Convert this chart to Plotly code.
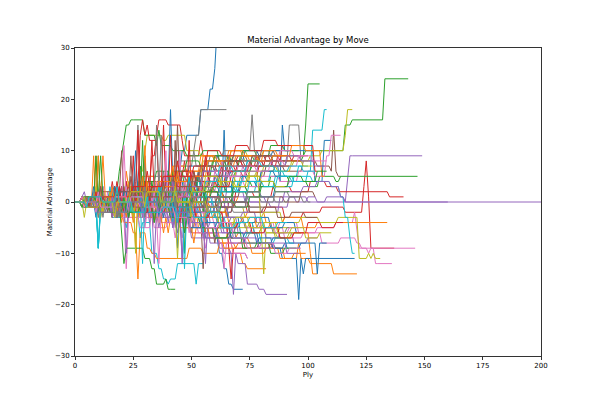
import plotly.graph_objects as go

# Each game: "ply:value" breakpoints (value holds from that ply on); last token = final ply.
games_block_1 = [
    "0:0 6:1 7:0 12:3 13:0 17:-1 22:2 23:-1 27:1 31:4 32:1 36:3 40:6 41:3 44:6 46:10 48:13 53:13 54:18 57:18 58:22 59:22 60:26 61:34",
    "0:0 5:-1 9:2 10:-1 16:-1 20:-4 21:-1 28:-3 33:0 34:-3 40:-6 41:-3 47:-5 52:-2 53:-5 60:-7 66:-4 67:-7 75:-8 84:-9 90:-11 96:-8 97:-11 101:-12 106:-12 111:-14 121:-14",
    "0:0 4:1 5:0 11:3 12:0 18:-2 24:1 25:-2 30:0 37:2 38:-1 45:3 52:3 53:6 54:3 60:5 68:6 76:8 85:9 92:9 99:10 115:10 116:15 119:16 132:16 133:24 143:24",
    "0:0 7:-1 8:1 14:0 20:3 21:0 26:-2 33:1 34:-2 41:-1 48:-4 49:-1 57:0 65:-3 66:0 74:-2 82:-1 90:-3 98:-2 106:-1 116:-2 123:-2 124:3 125:8 126:1 127:-9 137:-9",
    "0:0 3:1 4:0 10:-1 15:2 16:-1 22:-3 23:0 29:-1 36:2 37:-1 44:0 51:3 52:0 60:-2 68:1 75:0 84:-1 92:1 100:0 108:1 116:0 117:5 118:9 149:9",
    "0:0 5:-1 6:1 13:0 19:-3 20:0 26:2 31:-1 32:2 39:3 45:0 46:3 53:5 58:4 66:6 74:5 82:7 90:6 98:8 104:7 110:6 111:14 112:6 113:5 114:5",
    "0:0 4:-1 9:1 10:-2 17:0 23:-3 24:0 29:2 35:-1 36:2 42:0 49:-3 50:0 57:-2 64:-4 72:-3 80:-5 88:-4 96:-6 104:-5 112:-4 120:-2 121:-6 122:-9 146:-9",
    "0:0 5:1 6:0 11:-1 16:2 17:-1 22:1 27:4 28:1 33:3 38:6 39:3 44:8 49:10 52:13 54:18 65:18",
    "0:0 6:-1 7:1 13:0 18:3 19:0 24:-2 30:1 31:-2 38:0 44:3 45:0 51:2 58:4 64:3 71:5 78:6 86:7 94:8 101:9 106:10 115:10 116:13 117:18 119:18",
    "0:0 3:1 4:-1 9:2 10:-1 16:0 21:3 22:0 28:-2 34:1 35:-2 41:1 48:0 55:3 56:0 63:2 70:4 78:3 86:5 94:4 100:6 102:14 106:14 107:18 108:18",
]
games_block_2 = [
    "0:0 5:1 6:-1 12:0 17:-3 18:0 24:2 30:-1 31:2 37:0 43:-3 44:0 50:-2 57:-4 64:-3 71:-6 78:-8 86:-9 89:-11 95:-11 96:-19 97:-11 98:-14 99:-11 120:-11",
    "0:0 4:1 5:0 10:-3 11:0 17:2 23:-1 24:2 30:1 36:-2 37:1 44:0 50:3 51:0 58:-1 66:-3 74:-2 82:-4 90:-3 98:-5 104:-4 108:-4 134:-4",
    "0:0 6:1 7:-1 14:0 20:3 21:0 27:-1 33:2 34:-1 40:1 47:4 48:1 55:3 62:5 69:6 76:7 84:8 92:8 98:9 99:15 100:23 105:23",
    "0:0 5:-1 6:1 12:-2 13:1 19:0 25:-3 26:0 32:2 38:-1 39:2 46:0 53:3 54:0 61:-1 69:2 77:1 85:3 93:2 101:4 108:3 113:2 134:2 135:1 141:1",
    "0:0 4:-1 5:1 11:0 17:3 18:0 23:-2 29:1 30:-2 36:0 42:2 43:-1 50:1 57:-1 65:2 73:0 80:-2 88:1 95:0 100:1 104:0 200:0",
    "0:0 7:1 8:-1 14:0 20:-3 21:0 27:2 32:-1 33:2 40:3 46:0 47:3 54:1 61:-2 68:0 75:-1 83:1 90:0 97:2 103:1",
    "0:0 6:1 7:-1 13:0 19:3 20:0 26:-2 32:0 33:-3 39:-1 46:-4 47:-1 53:-3 60:-5 67:-4 74:-6 82:-5 90:-7 98:-6 106:-8 114:-7 121:-8 123:-9 126:-10 127:-9 129:-12 136:-12",
    "0:0 5:-1 6:1 12:0 18:3 19:0 24:-1 30:2 31:-1 37:1 43:4 44:1 51:3 58:2 65:5 72:4 80:6 86:7 91:8 92:15 96:15 97:8 98:8",
    "0:0 4:1 5:-1 11:0 17:-3 18:0 24:1 30:-2 31:1 37:0 43:-3 44:0 51:-1 58:-2 65:-1 73:-3 81:-2 89:-4 97:-3 105:-4 113:-3 121:-3 122:-11 126:-10 127:-11 128:-10 129:-11 131:-11",
    "0:0 3:-1 8:1 9:-2 15:0 21:3 22:0 28:-2 34:1 35:-2 41:0 48:2 49:-1 56:1 63:3 70:2 78:4 86:3 94:5 102:4 110:3 114:1 116:-3 118:-7 119:-10 120:-10",
]
games_block_3 = [
    "0:0 5:1 6:0 11:-2 12:1 18:0 24:3 25:0 31:2 37:-1 38:2 45:4 52:3 53:6 54:3 60:5 67:6 74:8 81:7 88:4 89:15 90:10 102:10 103:4 106:4 107:12 110:12",
    "0:0 4:-1 9:1 10:-2 16:0 22:-3 23:0 29:-2 35:-4 36:-1 42:-3 49:-5 50:-2 56:-6 62:-8 68:-10 72:-12 74:-13 82:-13",
    "0:0 6:-1 7:1 13:0 19:-3 20:0 26:2 31:-1 32:2 39:1 45:4 46:1 53:3 60:2 68:4 76:3 84:5 92:4 100:3 105:5 112:4 114:5 147:5",
    "0:0 5:1 6:-1 11:2 12:-1 17:1 22:4 23:1 28:6 29:3 33:9 35:13 36:16 39:16 40:15 45:15 46:12 47:9 53:9 54:12 55:9 62:8 70:9 78:8 85:7",
    "0:0 5:1 6:-1 12:0 18:-3 19:0 25:2 31:-1 32:2 38:0 45:-3 46:0 52:-2 59:1 66:-1 74:1 82:0 90:2 98:3 104:4 110:3 114:1 116:0 160:0",
    "0:0 4:1 5:0 10:-1 16:2 17:-1 23:0 29:3 30:0 36:1 42:-2 43:1 50:0 57:2 64:1 71:3",
    "0:0 5:-1 6:1 12:0 18:-2 24:1 25:-2 31:0 37:3 38:0 45:2 52:1 59:3 66:4 73:3 80:5 88:4 96:6 103:5 107:5 108:9 110:13 114:13",
    "0:0 6:1 7:0 13:-2 14:1 20:0 26:4 27:15 28:4 33:3 39:5 46:4 53:6 58:5 63:3 68:4 74:4",
    "0:0 5:-1 6:1 12:2 13:-1 18:1 23:4 24:1 28:6 30:10 31:13 38:12 40:13 47:13 48:10 54:9 60:8 67:10 74:9 81:10",
    "0:0 4:1 5:-1 10:-9 11:-1 16:-3 22:-5 23:-2 28:-7 29:-4 33:-10 36:-13 38:-15 40:-16 41:-15 43:-15 44:-12 51:-12 52:-16 53:-12 55:-12",
]
games_block_4 = [
    "0:0 5:-1 6:1 11:0 17:-3 18:0 24:2 29:-1 30:2 36:-2 42:-5 43:-2 49:-4 56:-7 62:-10 64:-13 66:-16 68:-17 72:-17",
    "0:0 4:1 5:-1 9:9 10:-1 15:-2 21:-4 25:-6 27:-15 28:-6 31:-9 33:-10 35:-11 40:-11 48:-11 49:-9 55:-10 62:-8 69:-9",
    "0:0 5:1 6:0 10:9 11:0 16:2 19:6 20:9 21:12 22:15 24:16 29:16 30:13 35:11 36:14 37:11 42:10 48:9 55:10 62:8 68:9",
    "0:0 6:1 7:-1 12:0 18:3 19:0 25:-2 30:1 31:-2 37:2 44:0 45:3 52:5 58:4 65:6 72:5 79:7 85:8 89:11 102:11 103:6 104:6",
    "0:0 4:-1 5:1 11:0 17:-2 23:1 24:-2 30:-4 31:-1 37:-3 44:-6 45:-3 51:-5 58:-8 64:-10 70:-12 74:-16 79:-17 82:-18 91:-18",
    "0:0 5:1 6:-1 11:0 17:-3 18:0 23:1 29:-2 30:1 36:-1 43:-4 44:-1 50:-3 55:-13 56:-4 64:-5 70:-4 77:-6",
    "0:0 4:1 5:0 9:-1 14:2 15:-1 20:-3 22:-13 23:-3 28:-5 33:-2 34:-5 40:-4 46:-7 47:-4 53:-6 60:-5 66:-8 72:-7",
    "0:0 5:-1 6:1 11:-1 17:2 18:-1 24:0 30:3 31:0 37:-2 43:1 44:-2 50:0 56:-3 62:-1 68:-2 75:-1 80:-1",
    "0:0 4:-3 5:0 10:1 16:-2 17:1 23:0 29:4 30:1 36:3 42:6 43:3 49:5 55:8 61:7 67:9 73:8 79:9",
    "0:0 5:1 6:0 10:-9 11:0 16:-2 21:2 22:-1 28:1 34:-3 35:0 41:-2 47:1 48:-2 54:0 60:-3 66:-2",
]
games_block_5 = [
    "0:0 3:1 4:0 9:-2 10:1 15:0 20:3 21:0 27:-1 33:2 34:-1 40:4 41:18 42:4 46:4 47:1 53:3 60:2 64:14 65:2 71:4 78:3",
    "0:0 4:-1 8:9 9:-1 14:0 20:-3 21:0 26:2 32:-1 33:2 39:0 45:-2 46:1 52:-1 58:2 64:0 70:1",
    "0:0 5:-1 6:1 12:0 17:-3 18:0 20:-6 21:-12 22:-9 29:-9 30:-11 33:-13 35:-16 38:-16 39:-15 40:-17 43:-17",
    "0:0 5:1 6:-1 11:1 16:4 17:1 23:3 28:13 29:16 30:13 31:15 32:12 35:12 36:3 41:5 47:8 48:5 54:7 60:6 66:8 72:7 78:9 84:8",
    "0:0 4:1 5:0 10:-2 11:1 17:0 23:-3 24:0 30:-2 36:-5 37:-2 43:-4 50:-7 56:-6 62:-9 67:-10 68:-18 69:-10 74:-11",
    "0:0 6:-1 7:1 13:0 19:2 25:-1 26:2 32:0 38:3 39:0 45:2 52:5 53:2 59:4 65:3",
    "0:0 3:1 4:0 8:2 9:-1 15:1 21:-2 22:1 28:3 34:0 35:3 41:5 48:2 49:5 55:4 62:6 68:5 74:7",
    "0:0 5:1 6:0 12:-3 13:0 19:2 25:0 26:3 32:5 38:2 39:5 45:7 51:10 52:7 58:9 64:10 72:10 76:17 77:10 88:10",
    "0:0 4:1 5:-1 10:0 16:-3 17:0 23:2 29:-1 30:2 36:0 42:-3 43:0 49:-2 56:-4 62:-3 69:-5 75:-4 82:-6 88:-5 92:-5",
    "0:0 4:-1 5:1 10:0 15:3 16:0 21:-2 27:1 28:-2 34:0 40:3 41:0 47:2 53:5 54:2 60:4 66:3 72:5 78:4 84:6 90:5 96:7 100:7",
]
games_block_6 = [
    "0:0 4:1 5:-1 10:0 16:2 17:-1 22:1 28:-2 34:1 35:-2 41:0 47:-3 48:0 54:-2 60:-1 66:-3 72:-4 78:-3 84:-5 90:-4 95:-6 97:-6",
    "0:0 5:1 6:0 11:3 12:0 17:-2 23:1 24:-2 30:0 36:-3 37:0 42:-4 50:-6 56:-5 62:-7 70:-6 80:-5 88:-7 94:-6 100:-6 101:-10 102:-14 104:-14",
    "0:0 3:1 4:0 9:9 10:0 15:-1 21:2 22:-1 27:1 33:4 34:1 40:3 46:6 47:3 53:5 59:8 65:7 71:9 77:8",
    "0:0 5:-1 6:1 12:0 18:-3 19:0 25:2 31:0 32:-3 38:-1 44:-4 45:-1 51:-3 57:-5 63:-4 66:-9 67:-15 68:-9 75:-9 82:-9 84:-8",
    "0:0 4:1 5:0 9:-1 15:2 16:-1 21:0 27:-3 28:0 34:2 40:-1 41:2 47:0 53:-2 60:-1 66:-3 72:-2 78:-4",
    "0:0 5:-1 6:1 11:0 17:3 18:0 24:5 25:2 31:4 37:1 38:4 44:6 50:5 56:8 62:7 68:9 74:8 80:10 86:9 88:9",
    "0:0 4:-1 5:0 11:2 12:-1 17:-3 18:0 24:-2 30:-5 31:-2 37:-4 43:-7 44:-4 50:-6 56:-9 57:-6 62:-8 64:-13 65:-8 68:-10 74:-11",
    "0:0 6:1 7:-1 13:0 19:-3 20:0 26:2 32:-1 33:2 39:0 45:3 46:0 52:2 58:4 64:3",
    "0:0 5:1 6:0 12:-1 18:2 19:-1 25:0 31:3 32:0 38:2 44:5 45:2 51:4 57:3 63:5 69:4 75:6 79:2 80:-6 81:-14 82:-6 87:-7 93:-6 97:-6",
    "0:0 3:-1 4:1 10:0 16:-2 22:1 23:-2 28:0 34:-3 35:0 41:-2 47:1 48:-2 53:-1 59:-3 65:-5 71:-4 77:-6",
]
games_block_7 = [
    "0:0 5:-1 6:1 12:0 17:3 18:0 24:-2 30:1 31:-2 37:0 43:3 44:0 50:2 56:-1 62:1 68:0 74:2 80:1 86:3",
    "0:0 4:1 5:-1 11:0 16:3 17:0 22:6 23:3 29:5 35:2 36:5 42:7 48:6 54:9 60:8 66:10 72:9 76:9",
    "0:0 6:-1 7:1 12:-1 18:2 19:-1 25:1 31:-2 32:1 38:-1 44:2 45:-1 51:1 57:-2 63:0 69:-1 75:1 80:1",
    "0:0 4:-1 5:0 10:2 11:-1 16:1 22:4 23:1 29:3 35:0 36:3 42:5 48:4 54:7 60:6 66:8 72:7",
    "0:0 3:1 4:2 5:0 11:-1 17:2 18:-1 24:0 30:-3 31:0 37:-2 43:-5 44:-2 50:-4 56:-12 57:-4 63:-6 69:-5",
    "0:0 5:1 6:-1 12:1 18:-2 19:1 25:0 31:3 32:0 38:-2 44:1 45:-2 51:0 57:-3 63:-2",
    "0:0 4:1 5:0 10:-2 11:1 17:-1 23:2 24:-1 29:1 35:4 36:1 42:3 48:0 49:3 55:2 61:5 67:4 73:6",
    "0:0 5:-1 6:0 11:-3 12:0 18:-2 24:1 25:-2 31:-1 37:-4 38:-1 44:-3 50:-6 51:-3 57:-5 63:-4 69:-7 75:-6",
    "0:0 5:1 6:0 11:-2 12:1 18:0 24:3 25:0 31:2 37:-1 38:2 44:0 50:3 51:0 57:2 63:4 69:3 75:5",
    "0:0 4:1 5:-1 11:1 17:-2 18:1 24:0 30:3 31:0 37:2 43:-1 44:2 50:0 56:3 62:2 68:4 73:4",
]
games_block_8 = [
    "0:0 3:-1 4:0 8:3 9:0 14:-2 19:1 20:-2 25:0 30:9 31:0 36:-3 37:0 42:2 48:1 52:1",
    "0:0 4:1 5:0 10:9 11:0 15:-2 20:1 26:-9 27:1 32:3 38:2 44:4 48:4",
    "0:0 5:-1 6:1 11:0 16:-3 17:0 22:3 23:0 28:-2 33:1 39:-1 44:2 50:1 56:3 60:3",
    "0:0 4:1 5:0 9:-2 10:1 15:0 20:3 21:0 25:9 26:0 31:-2 36:1 41:13 42:1 47:3 52:2",
    "0:0 5:1 6:-1 11:0 16:3 17:0 22:-2 28:1 29:-2 34:-1 40:-4 41:-1 46:-12 47:-1 52:-3 58:-2",
    "0:0 4:-1 5:0 9:1 14:-2 15:1 20:10 21:1 26:3 32:0 33:3 38:2 44:15 45:2 50:4",
    "0:0 5:1 6:0 10:-2 11:1 16:-1 21:-3 27:-3 33:0 34:-3 36:-12 37:-2 45:10 46:-2 51:-4",
    "0:0 4:1 5:0 10:-3 11:0 16:2 17:-1 22:1 28:4 29:1 34:3 40:0 41:3 46:5 50:5",
    "0:0 4:-1 5:0 9:3 10:0 16:-2 22:1 23:-2 28:0 34:-3 35:0 40:-2 45:1",
    "0:0 5:-1 6:0 10:-9 11:0 16:-3 17:0 22:3 23:0 28:-2 34:1 35:-2 40:0 44:0",
]
games_block_9 = [
    "0:0 4:1 5:-1 10:2 11:-1 17:0 23:-3 24:0 29:5 30:2 36:4 42:1 43:4 49:7 55:6 61:9 67:8 73:10 79:9 85:10 92:10",
    "0:0 5:-1 6:1 12:-2 13:1 19:-1 25:-4 26:-1 32:-3 38:-6 39:-3 45:-5 51:-8 52:-5 58:-7 64:-9 70:-8 76:-10 82:-9 88:-11 94:-10 99:-10",
    "0:0 3:1 4:-1 9:1 15:-2 16:1 22:3 23:0 28:7 29:4 35:6 41:3 42:6 48:8 54:7 60:9 66:8 72:10 78:9 84:11 90:10 96:10",
    "0:0 4:-1 5:1 11:0 16:-3 17:0 22:2 27:-1 28:2 33:12 34:2 39:5 45:3 46:6 52:4 58:7 64:6 70:8 76:7 82:9 88:8 94:9 100:9",
    "0:0 5:1 6:-1 12:0 18:3 19:0 24:-1 30:2 31:-1 37:1 43:-2 44:1 50:-1 56:2 62:0 68:3 74:2 80:4 86:3 92:4 98:4",
    "0:0 3:-1 4:1 10:0 15:-2 21:1 22:-2 28:0 34:-4 35:-1 41:-3 47:-6 48:-3 54:-5 60:-8 61:-5 67:-7 73:-9 79:-8 85:-9 90:-9",
    "0:0 6:1 7:0 12:3 13:0 18:-1 24:2 25:-1 31:1 37:4 38:1 44:3 50:6 51:3 57:5 63:8 64:5 70:7 76:9 82:8 88:10 94:9 99:9",
    "0:0 4:-1 5:0 11:-2 12:1 17:0 23:-3 24:0 29:2 35:-1 36:2 42:0 48:-3 49:0 55:-2 61:-4 67:-3 73:-5 79:-4 85:-6 91:-5 96:-5",
    "0:0 5:1 6:0 11:-3 12:0 18:2 24:-1 25:2 31:0 37:3 38:0 44:2 50:5 51:2 57:4 63:3 69:6 75:5 81:7 87:6 93:8 98:7 102:7",
    "0:0 4:-1 5:1 10:-1 16:2 17:-1 23:1 29:-2 30:1 36:-1 42:-4 43:-1 49:-3 55:-6 56:-3 62:-5 68:-7 74:-6 80:-8 86:-7 92:-8 97:-8",
]
games_block_10 = [
    "0:0 5:-1 6:0 11:3 12:0 17:-2 23:1 24:-2 30:0 36:3 37:0 43:2 49:5 50:2 56:4 62:3 68:5 74:4 80:6 86:5 91:5",
    "0:0 3:1 4:0 9:-1 15:2 16:-1 22:1 28:-3 29:0 35:-2 41:1 42:-2 48:0 54:-3 60:-2 66:-4 72:-3 78:-5 84:-4 90:-3 94:-3",
    "0:0 5:1 6:-1 11:0 17:3 18:0 24:-2 30:1 31:-2 37:0 43:-3 44:0 50:-2 56:1 62:0 68:2 74:1 80:3 86:2 92:2",
    "0:0 4:1 5:-1 11:1 17:-2 18:1 24:0 30:4 31:1 37:3 43:6 44:3 50:5 56:9 57:5 63:7 69:6 75:8 81:7 87:9 93:8 97:8",
    "0:0 6:-1 7:1 13:0 19:-2 20:1 26:-1 32:-4 33:-1 39:-3 45:0 46:-3 52:-1 58:-4 64:-3 70:-6 76:-5 82:-7 88:-6 94:-8 100:-7 104:-7",
    "0:0 4:1 5:0 10:2 16:-1 17:2 23:0 29:3 30:0 36:2 42:5 43:2 49:4 55:7 61:6 67:8 73:7 79:9 85:8 90:8",
    "0:0 5:-1 6:1 11:-1 17:-3 18:0 24:-2 30:1 31:-2 37:0 43:-3 44:0 50:-2 56:-5 62:-4 68:-6 74:-5 80:-4 86:-6 92:-5 98:-5",
    "0:0 3:1 4:-1 10:0 16:3 17:0 23:2 29:5 30:2 35:15 36:3 42:5 48:4 54:7 60:6 66:9 72:8 78:10 84:9 88:9",
    "0:0 4:-1 5:1 11:0 17:-2 23:1 24:-2 30:-1 36:-4 37:-1 43:-3 49:-1 50:-4 56:-2 62:-5 68:-4 74:-6 80:-5 86:-7 92:-6 96:-6",
    "0:0 5:1 6:0 11:2 12:-1 18:1 24:-2 25:1 31:0 37:3 38:0 44:2 50:-1 51:2 57:0 63:3 69:2 75:4 81:3 87:5 93:4 98:4",
]
games_block_11 = [
    "0:0 4:1 5:0 9:-3 10:0 15:2 20:-1 21:2 26:10 27:2 32:0 38:-3 39:0 44:-9 45:0 50:2 56:1 62:3 68:2",
    "0:0 5:-1 6:1 12:9 13:1 18:-1 24:2 25:-1 30:11 31:-1 36:1 42:-2 43:1 48:3 54:2 60:4 66:3",
    "0:0 4:-1 5:1 11:9 12:1 17:0 23:-3 24:0 29:12 30:0 35:2 41:-1 42:2 47:-10 48:2 53:1 59:3 65:2",
    "0:0 3:1 4:0 9:2 10:-1 15:1 21:-2 22:1 27:14 28:1 33:3 38:15 39:3 44:1 49:12 50:1 55:4 61:3 67:5",
    "0:0 4:-1 5:0 10:1 16:-2 17:1 22:-10 23:1 28:-1 34:-12 35:-1 40:-3 46:-11 47:-3 52:-5 58:-4 64:-6",
    "0:0 5:1 6:-1 12:0 18:-3 19:0 24:9 25:0 31:-2 37:1 38:-2 43:12 44:-2 49:0 55:-1 61:1 67:0",
    "0:0 4:1 5:-1 10:0 16:3 17:0 21:11 22:0 27:-2 33:1 34:-2 39:10 40:-2 45:0 51:-2 57:1 63:0",
    "0:0 6:1 7:-1 12:0 18:-3 19:0 25:2 31:-1 32:2 37:13 38:2 43:4 49:3 55:5 61:4",
    "0:0 3:-1 4:1 9:-1 15:2 16:-1 22:1 26:-10 27:1 32:-2 38:0 39:-2 44:-11 45:-2 50:0 56:-1 62:1",
    "0:0 5:1 6:-1 10:-9 11:-1 17:1 23:-2 24:1 29:-12 30:1 35:-1 41:2 42:-1 47:-13 48:-1 53:1 59:0",
]
games_block_12 = [
    "0:0 4:-1 5:1 11:0 17:3 18:0 23:-2 29:1 30:-2 36:0 42:-3 43:0 49:-2 55:-5 61:-4 67:-7 73:-6 79:-8 85:-7 91:-9 97:-8 103:-8 104:-14 105:-8 108:-8",
    "0:0 5:1 6:-1 12:1 18:-2 19:1 25:0 31:4 32:1 38:3 44:6 45:3 51:5 57:8 63:7 69:9 75:8 81:10 87:9 93:11 99:10 105:10 106:5 107:5",
    "0:0 4:1 5:0 10:-2 11:1 17:0 23:-3 24:0 30:2 36:-1 37:2 43:0 49:3 50:0 56:2 62:1 68:3 74:2 80:4 86:3 92:5 98:4 104:6 108:6",
    "0:0 6:-1 7:1 13:0 19:3 20:0 26:-2 32:1 33:-2 39:-1 45:-4 46:-1 52:-3 58:-2 64:-5 70:-4 76:-6 82:-5 88:-7 94:-6 100:-4 106:-5 112:-4 115:-4",
    "0:0 4:1 5:-1 10:0 16:-3 17:0 23:2 29:-1 30:2 36:1 42:4 43:1 49:3 55:6 61:5 67:7 73:6 79:8 85:7 91:9 97:8 103:7 107:7",
    "0:0 5:-1 6:0 11:3 12:0 18:-1 24:2 25:-1 31:1 37:-2 38:1 44:-1 50:2 51:-1 57:1 63:-1 69:0 75:-2 81:-1 87:-3 93:-2 99:-3 104:-3",
    "0:0 3:1 4:0 9:-2 10:1 16:0 22:3 23:0 28:-1 34:2 35:-1 41:1 47:4 48:1 54:3 60:6 66:5 72:7 78:6 84:8 90:7 96:9 102:8 108:8",
    "0:0 4:-1 5:1 11:-1 17:2 18:-1 24:0 30:-3 31:0 37:-2 43:1 44:-2 50:0 56:-1 62:1 68:0 74:2 80:1 86:0 92:1 98:0 101:0",
    "0:0 5:1 6:0 12:-2 13:1 19:0 25:-3 26:0 31:2 37:-1 38:2 44:0 50:-3 51:0 57:-2 63:-4 69:-3 75:-5 81:-4 87:-6 93:-5 99:-7 105:-6 110:-6",
    "0:0 4:1 5:-1 11:0 17:-2 23:1 24:-2 30:0 36:3 37:0 43:2 49:5 50:2 56:4 62:7 68:6 74:8 80:7 86:6 92:7 98:6 103:6",
]
games_block_13 = [
    "0:0 5:1 6:-1 11:0 17:2 23:-1 24:2 30:0 36:-3 37:0 43:-2 49:-5 55:-4 61:-7 67:-6 73:-8 79:-7 85:-9 90:-8 94:-8",
    "0:0 4:-1 5:1 10:0 16:3 17:0 23:2 29:5 30:2 36:4 42:7 43:4 49:6 55:9 61:8 67:10 73:9 79:8 85:9 89:9",
    "0:0 3:-1 4:1 9:0 15:-2 21:1 22:-2 28:-1 34:-4 35:-1 41:-3 47:-6 48:-3 54:-5 60:-7 66:-6 72:-9 78:-8 84:-10 90:-9 95:-9",
    "0:0 5:1 6:-1 12:1 18:4 19:1 25:3 31:6 32:3 38:5 44:8 45:5 51:7 57:10 63:9 69:11 75:10 81:12 87:11 92:11",
    "0:0 4:1 5:0 10:-2 16:1 17:-2 23:0 29:-3 30:0 36:-2 42:-5 43:-2 49:-4 55:-7 61:-6 67:-8 73:-7 79:-9 85:-8 91:-10 96:-10",
    "0:0 6:-1 7:1 13:0 19:2 25:-1 26:2 32:1 38:4 39:1 45:3 51:6 52:3 58:5 64:8 70:7 76:9 82:8 88:7 92:7",
    "0:0 4:-1 5:0 10:2 11:-1 17:1 23:-2 24:1 30:-1 36:-4 37:-1 43:-3 49:-6 50:-3 56:-5 62:-4 68:-7 74:-9 80:-8 86:-10 92:-9 97:-9",
    "0:0 5:1 6:0 11:-2 17:1 18:-2 24:0 30:3 31:0 37:2 43:-1 44:2 50:1 56:-2 62:0 68:-1 74:1 80:0 86:2 92:1 96:1",
    "0:0 4:1 5:-1 11:0 17:-3 18:0 24:2 30:-1 31:2 37:0 43:3 44:0 50:2 56:5 62:4 68:3 74:5 80:4 86:3 90:3",
    "0:0 5:-1 6:1 12:0 18:3 19:0 25:-2 31:1 32:-2 38:-1 44:-4 45:-1 51:-3 57:-2 63:-5 69:-4 75:-3 81:-5 87:-4 91:-4",
]

x_ticks = [0, 25, 50, 75, 100, 125, 150, 175, 200]
y_ticks = [-30, -20, -10, 0, 10, 20, 30]
y_tick_labels = ["\u221230", "\u221220", "\u221210", "0", "10", "20", "30"]

tab10 = ["#1f77b4", "#ff7f0e", "#2ca02c", "#d62728", "#9467bd",
         "#8c564b", "#e377c2", "#7f7f7f", "#bcbd22", "#17becf"]


def expand(spec):
    pts = [(int(a), float(b)) for a, b in (t.split(":") for t in spec.split())]
    last = pts[-1][0]
    xs, ys, j = [], [], 0
    for p in range(last + 1):
        while j + 1 < len(pts) and pts[j + 1][0] <= p:
            j += 1
        xs.append(p)
        ys.append(pts[j][1])
    return xs, ys


all_games = (games_block_1 + games_block_2 + games_block_3 + games_block_4 +
             games_block_5 + games_block_6 + games_block_7 + games_block_8 +
             games_block_9 + games_block_10 + games_block_11 + games_block_12 +
             games_block_13)

fig = go.Figure()
for i, g in enumerate(all_games):
    xs, ys = expand(g)
    fig.add_trace(go.Scatter(x=xs, y=ys, mode="lines",
                             line=dict(color=tab10[i % 10], width=1),
                             showlegend=False, hoverinfo="skip"))

font = "DejaVu Sans, sans-serif"
black = "#000000"
fig.update_layout(
    width=600, height=400,
    margin=dict(l=75, r=59, t=48, b=44),
    paper_bgcolor="white", plot_bgcolor="white",
    font=dict(family=font, size=7, color=black),
    title=dict(text="Material Advantage by Move", x=0.5, xref="paper",
               y=1 - 40.5 / 400, yref="container", yanchor="middle",
               xanchor="center", font=dict(family=font, size=8.5, color=black)),
)
fig.update_xaxes(range=[0, 200], tickvals=x_ticks, ticks="outside", ticklen=3,
                 tickcolor="#333", showline=True, linecolor="#333", linewidth=0.8,
                 mirror=True, showgrid=False, zeroline=False,
                 tickfont=dict(family=font, size=7, color=black),
                 title=dict(text="Ply", standoff=2,
                            font=dict(family=font, size=7, color=black)))
fig.update_yaxes(range=[-30, 30], tickvals=y_ticks, ticktext=y_tick_labels,
                 ticks="outside", ticklen=3, tickcolor="#333",
                 showline=True, linecolor="#333", linewidth=0.8, mirror=True,
                 showgrid=False, zeroline=False,
                 tickfont=dict(family=font, size=7, color=black),
                 title=dict(text="Material Advantage", standoff=1,
                            font=dict(family=font, size=7, color=black)))

fig.write_html("out.html")
